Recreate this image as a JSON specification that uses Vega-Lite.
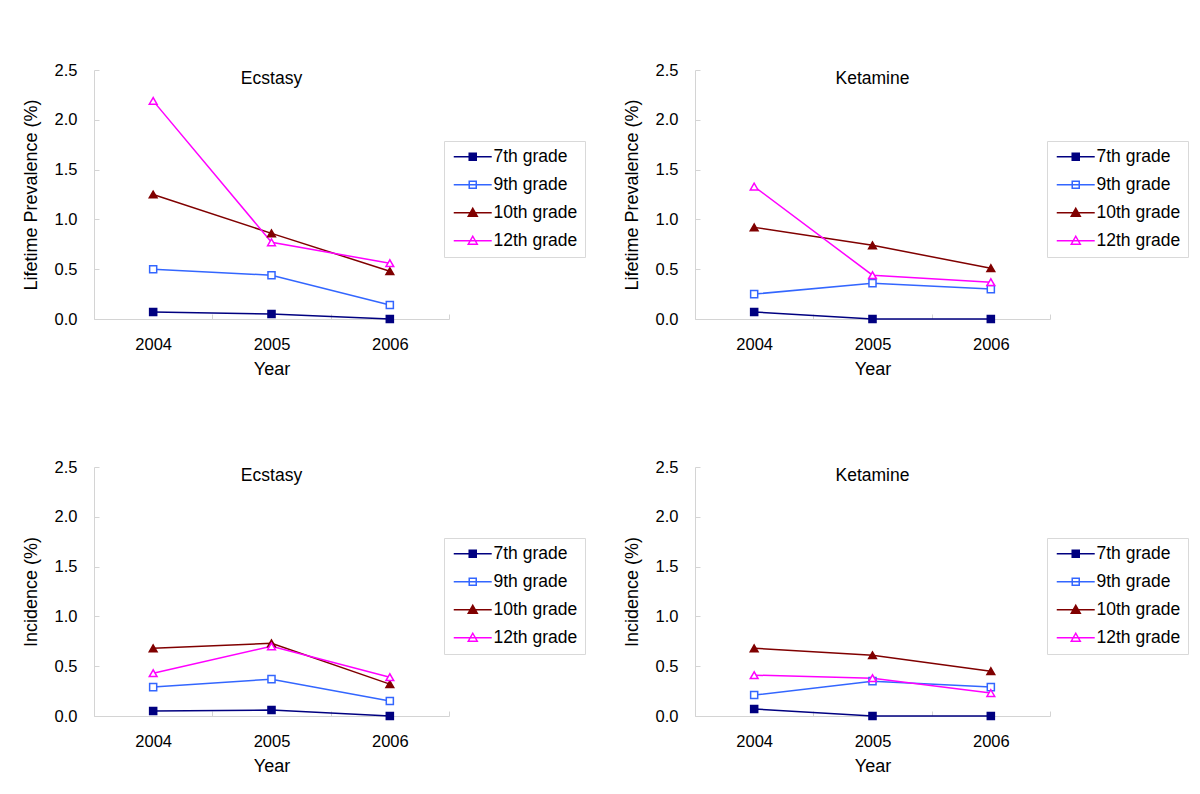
{
  "$schema": "https://vega.github.io/schema/vega-lite/v6.json",
  "background": "white",
  "padding": {"left": 22, "top": 62, "right": 5, "bottom": 5},
  "data": {"values": [
    {"panel": "EL", "grade": "7th grade", "year": "2004", "value": 0.07},
    {"panel": "EL", "grade": "7th grade", "year": "2005", "value": 0.05},
    {"panel": "EL", "grade": "7th grade", "year": "2006", "value": 0.0},
    {"panel": "EL", "grade": "9th grade", "year": "2004", "value": 0.50},
    {"panel": "EL", "grade": "9th grade", "year": "2005", "value": 0.44},
    {"panel": "EL", "grade": "9th grade", "year": "2006", "value": 0.14},
    {"panel": "EL", "grade": "10th grade", "year": "2004", "value": 1.25},
    {"panel": "EL", "grade": "10th grade", "year": "2005", "value": 0.86},
    {"panel": "EL", "grade": "10th grade", "year": "2006", "value": 0.48},
    {"panel": "EL", "grade": "12th grade", "year": "2004", "value": 2.19},
    {"panel": "EL", "grade": "12th grade", "year": "2005", "value": 0.77},
    {"panel": "EL", "grade": "12th grade", "year": "2006", "value": 0.56},
    {"panel": "KL", "grade": "7th grade", "year": "2004", "value": 0.07},
    {"panel": "KL", "grade": "7th grade", "year": "2005", "value": 0.0},
    {"panel": "KL", "grade": "7th grade", "year": "2006", "value": 0.0},
    {"panel": "KL", "grade": "9th grade", "year": "2004", "value": 0.25},
    {"panel": "KL", "grade": "9th grade", "year": "2005", "value": 0.36},
    {"panel": "KL", "grade": "9th grade", "year": "2006", "value": 0.30},
    {"panel": "KL", "grade": "10th grade", "year": "2004", "value": 0.92},
    {"panel": "KL", "grade": "10th grade", "year": "2005", "value": 0.74},
    {"panel": "KL", "grade": "10th grade", "year": "2006", "value": 0.51},
    {"panel": "KL", "grade": "12th grade", "year": "2004", "value": 1.33},
    {"panel": "KL", "grade": "12th grade", "year": "2005", "value": 0.44},
    {"panel": "KL", "grade": "12th grade", "year": "2006", "value": 0.37},
    {"panel": "EI", "grade": "7th grade", "year": "2004", "value": 0.05},
    {"panel": "EI", "grade": "7th grade", "year": "2005", "value": 0.06},
    {"panel": "EI", "grade": "7th grade", "year": "2006", "value": 0.0},
    {"panel": "EI", "grade": "9th grade", "year": "2004", "value": 0.29},
    {"panel": "EI", "grade": "9th grade", "year": "2005", "value": 0.37},
    {"panel": "EI", "grade": "9th grade", "year": "2006", "value": 0.15},
    {"panel": "EI", "grade": "10th grade", "year": "2004", "value": 0.68},
    {"panel": "EI", "grade": "10th grade", "year": "2005", "value": 0.73},
    {"panel": "EI", "grade": "10th grade", "year": "2006", "value": 0.32},
    {"panel": "EI", "grade": "12th grade", "year": "2004", "value": 0.43},
    {"panel": "EI", "grade": "12th grade", "year": "2005", "value": 0.70},
    {"panel": "EI", "grade": "12th grade", "year": "2006", "value": 0.39},
    {"panel": "KI", "grade": "7th grade", "year": "2004", "value": 0.07},
    {"panel": "KI", "grade": "7th grade", "year": "2005", "value": 0.0},
    {"panel": "KI", "grade": "7th grade", "year": "2006", "value": 0.0},
    {"panel": "KI", "grade": "9th grade", "year": "2004", "value": 0.21},
    {"panel": "KI", "grade": "9th grade", "year": "2005", "value": 0.35},
    {"panel": "KI", "grade": "9th grade", "year": "2006", "value": 0.29},
    {"panel": "KI", "grade": "10th grade", "year": "2004", "value": 0.68},
    {"panel": "KI", "grade": "10th grade", "year": "2005", "value": 0.61},
    {"panel": "KI", "grade": "10th grade", "year": "2006", "value": 0.45},
    {"panel": "KI", "grade": "12th grade", "year": "2004", "value": 0.41},
    {"panel": "KI", "grade": "12th grade", "year": "2005", "value": 0.38},
    {"panel": "KI", "grade": "12th grade", "year": "2006", "value": 0.23}
  ]},
  "columns": 2,
  "spacing": {"row": 148, "column": 246},
  "bounds": "flush",
  "resolve": {
    "scale": {"stroke": "independent", "color": "independent", "fill": "independent", "x": "independent", "y": "independent"},
    "legend": {"stroke": "independent"}
  },
  "concat": [
    {
      "title": "Ecstasy",
      "width": 355, "height": 249,
      "transform": [{"filter": "datum.panel === 'EL'"}],
      "encoding": {
        "x": {"field": "year", "type": "ordinal", "scale": {"type": "band", "paddingInner": 0, "paddingOuter": 0}, "axis": {"title": "Year"}},
        "y": {"field": "value", "type": "quantitative", "scale": {"domain": [0, 2.5], "nice": false, "zero": true}, "axis": {"title": "Lifetime Prevalence (%)"}}
      },
      "layer": [
        {"mark": {"type": "line", "strokeWidth": 1.5},
         "encoding": {"stroke": {"field": "grade", "type": "nominal", "scale": {"domain": ["7th grade", "9th grade", "10th grade", "12th grade"], "range": ["#000080", "#3366FF", "#800000", "#FF00FF"]},
          "legend": {"orient": "none", "legendX": 350, "legendY": 71,
            "encode": {"symbols": {"update": {
              "shape": {"signal": "datum.value === '7th grade' || datum.value === '9th grade' ? 'M-1,0L5.33,0M1.58,-0.58L2.75,-0.58L2.75,0.58L1.58,0.58Z' : 'M-1,0L5.33,0M2.17,-0.75L2.92,0.58L1.42,0.58Z'"},
              "fill": {"signal": "datum.value === '7th grade' ? '#000080' : datum.value === '10th grade' ? '#800000' : 'white'"},
              "stroke": {"signal": "datum.value === '7th grade' ? '#000080' : datum.value === '9th grade' ? '#3366FF' : datum.value === '10th grade' ? '#800000' : '#FF00FF'"},
              "strokeWidth": {"value": 1.5}, "size": {"value": 144}, "opacity": {"value": 1}}}}}}}},
        {"transform": [{"filter": "datum.grade === '7th grade' || datum.grade === '9th grade'"}],
         "mark": {"type": "point", "shape": "square", "filled": false, "strokeWidth": 1.5, "opacity": 1, "size": 50},
         "encoding": {
           "color": {"field": "grade", "type": "nominal", "scale": {"domain": ["7th grade", "9th grade", "10th grade", "12th grade"], "range": ["#000080", "#3366FF", "#800000", "#FF00FF"]}, "legend": null},
           "fill": {"field": "grade", "type": "nominal", "scale": {"domain": ["7th grade", "9th grade", "10th grade", "12th grade"], "range": ["#000080", "white", "#800000", "white"]}, "legend": null}
         }},
        {"transform": [{"filter": "datum.grade === '10th grade' || datum.grade === '12th grade'"}],
         "mark": {"type": "point", "shape": "triangle-up", "filled": false, "strokeWidth": 1.5, "opacity": 1, "size": 60},
         "encoding": {
           "color": {"field": "grade", "type": "nominal", "scale": {"domain": ["7th grade", "9th grade", "10th grade", "12th grade"], "range": ["#000080", "#3366FF", "#800000", "#FF00FF"]}, "legend": null},
           "fill": {"field": "grade", "type": "nominal", "scale": {"domain": ["7th grade", "9th grade", "10th grade", "12th grade"], "range": ["#000080", "white", "#800000", "white"]}, "legend": null}
         }}
      ]
    },
    {
      "title": "Ketamine",
      "width": 355, "height": 249,
      "transform": [{"filter": "datum.panel === 'KL'"}],
      "encoding": {
        "x": {"field": "year", "type": "ordinal", "scale": {"type": "band", "paddingInner": 0, "paddingOuter": 0}, "axis": {"title": "Year"}},
        "y": {"field": "value", "type": "quantitative", "scale": {"domain": [0, 2.5], "nice": false, "zero": true}, "axis": {"title": "Lifetime Prevalence (%)"}}
      },
      "layer": [
        {"mark": {"type": "line", "strokeWidth": 1.5},
         "encoding": {"stroke": {"field": "grade", "type": "nominal", "scale": {"domain": ["7th grade", "9th grade", "10th grade", "12th grade"], "range": ["#000080", "#3366FF", "#800000", "#FF00FF"]},
          "legend": {"orient": "none", "legendX": 352, "legendY": 71,
            "encode": {"symbols": {"update": {
              "shape": {"signal": "datum.value === '7th grade' || datum.value === '9th grade' ? 'M-1,0L5.33,0M1.58,-0.58L2.75,-0.58L2.75,0.58L1.58,0.58Z' : 'M-1,0L5.33,0M2.17,-0.75L2.92,0.58L1.42,0.58Z'"},
              "fill": {"signal": "datum.value === '7th grade' ? '#000080' : datum.value === '10th grade' ? '#800000' : 'white'"},
              "stroke": {"signal": "datum.value === '7th grade' ? '#000080' : datum.value === '9th grade' ? '#3366FF' : datum.value === '10th grade' ? '#800000' : '#FF00FF'"},
              "strokeWidth": {"value": 1.5}, "size": {"value": 144}, "opacity": {"value": 1}}}}}}}},
        {"transform": [{"filter": "datum.grade === '7th grade' || datum.grade === '9th grade'"}],
         "mark": {"type": "point", "shape": "square", "filled": false, "strokeWidth": 1.5, "opacity": 1, "size": 50},
         "encoding": {
           "color": {"field": "grade", "type": "nominal", "scale": {"domain": ["7th grade", "9th grade", "10th grade", "12th grade"], "range": ["#000080", "#3366FF", "#800000", "#FF00FF"]}, "legend": null},
           "fill": {"field": "grade", "type": "nominal", "scale": {"domain": ["7th grade", "9th grade", "10th grade", "12th grade"], "range": ["#000080", "white", "#800000", "white"]}, "legend": null}
         }},
        {"transform": [{"filter": "datum.grade === '10th grade' || datum.grade === '12th grade'"}],
         "mark": {"type": "point", "shape": "triangle-up", "filled": false, "strokeWidth": 1.5, "opacity": 1, "size": 60},
         "encoding": {
           "color": {"field": "grade", "type": "nominal", "scale": {"domain": ["7th grade", "9th grade", "10th grade", "12th grade"], "range": ["#000080", "#3366FF", "#800000", "#FF00FF"]}, "legend": null},
           "fill": {"field": "grade", "type": "nominal", "scale": {"domain": ["7th grade", "9th grade", "10th grade", "12th grade"], "range": ["#000080", "white", "#800000", "white"]}, "legend": null}
         }}
      ]
    },
    {
      "title": "Ecstasy",
      "width": 355, "height": 249,
      "transform": [{"filter": "datum.panel === 'EI'"}],
      "encoding": {
        "x": {"field": "year", "type": "ordinal", "scale": {"type": "band", "paddingInner": 0, "paddingOuter": 0}, "axis": {"title": "Year"}},
        "y": {"field": "value", "type": "quantitative", "scale": {"domain": [0, 2.5], "nice": false, "zero": true}, "axis": {"title": "Incidence (%)"}}
      },
      "layer": [
        {"mark": {"type": "line", "strokeWidth": 1.5},
         "encoding": {"stroke": {"field": "grade", "type": "nominal", "scale": {"domain": ["7th grade", "9th grade", "10th grade", "12th grade"], "range": ["#000080", "#3366FF", "#800000", "#FF00FF"]},
          "legend": {"orient": "none", "legendX": 350, "legendY": 71,
            "encode": {"symbols": {"update": {
              "shape": {"signal": "datum.value === '7th grade' || datum.value === '9th grade' ? 'M-1,0L5.33,0M1.58,-0.58L2.75,-0.58L2.75,0.58L1.58,0.58Z' : 'M-1,0L5.33,0M2.17,-0.75L2.92,0.58L1.42,0.58Z'"},
              "fill": {"signal": "datum.value === '7th grade' ? '#000080' : datum.value === '10th grade' ? '#800000' : 'white'"},
              "stroke": {"signal": "datum.value === '7th grade' ? '#000080' : datum.value === '9th grade' ? '#3366FF' : datum.value === '10th grade' ? '#800000' : '#FF00FF'"},
              "strokeWidth": {"value": 1.5}, "size": {"value": 144}, "opacity": {"value": 1}}}}}}}},
        {"transform": [{"filter": "datum.grade === '7th grade' || datum.grade === '9th grade'"}],
         "mark": {"type": "point", "shape": "square", "filled": false, "strokeWidth": 1.5, "opacity": 1, "size": 50},
         "encoding": {
           "color": {"field": "grade", "type": "nominal", "scale": {"domain": ["7th grade", "9th grade", "10th grade", "12th grade"], "range": ["#000080", "#3366FF", "#800000", "#FF00FF"]}, "legend": null},
           "fill": {"field": "grade", "type": "nominal", "scale": {"domain": ["7th grade", "9th grade", "10th grade", "12th grade"], "range": ["#000080", "white", "#800000", "white"]}, "legend": null}
         }},
        {"transform": [{"filter": "datum.grade === '10th grade' || datum.grade === '12th grade'"}],
         "mark": {"type": "point", "shape": "triangle-up", "filled": false, "strokeWidth": 1.5, "opacity": 1, "size": 60},
         "encoding": {
           "color": {"field": "grade", "type": "nominal", "scale": {"domain": ["7th grade", "9th grade", "10th grade", "12th grade"], "range": ["#000080", "#3366FF", "#800000", "#FF00FF"]}, "legend": null},
           "fill": {"field": "grade", "type": "nominal", "scale": {"domain": ["7th grade", "9th grade", "10th grade", "12th grade"], "range": ["#000080", "white", "#800000", "white"]}, "legend": null}
         }}
      ]
    },
    {
      "title": "Ketamine",
      "width": 355, "height": 249,
      "transform": [{"filter": "datum.panel === 'KI'"}],
      "encoding": {
        "x": {"field": "year", "type": "ordinal", "scale": {"type": "band", "paddingInner": 0, "paddingOuter": 0}, "axis": {"title": "Year"}},
        "y": {"field": "value", "type": "quantitative", "scale": {"domain": [0, 2.5], "nice": false, "zero": true}, "axis": {"title": "Incidence (%)"}}
      },
      "layer": [
        {"mark": {"type": "line", "strokeWidth": 1.5},
         "encoding": {"stroke": {"field": "grade", "type": "nominal", "scale": {"domain": ["7th grade", "9th grade", "10th grade", "12th grade"], "range": ["#000080", "#3366FF", "#800000", "#FF00FF"]},
          "legend": {"orient": "none", "legendX": 352, "legendY": 71,
            "encode": {"symbols": {"update": {
              "shape": {"signal": "datum.value === '7th grade' || datum.value === '9th grade' ? 'M-1,0L5.33,0M1.58,-0.58L2.75,-0.58L2.75,0.58L1.58,0.58Z' : 'M-1,0L5.33,0M2.17,-0.75L2.92,0.58L1.42,0.58Z'"},
              "fill": {"signal": "datum.value === '7th grade' ? '#000080' : datum.value === '10th grade' ? '#800000' : 'white'"},
              "stroke": {"signal": "datum.value === '7th grade' ? '#000080' : datum.value === '9th grade' ? '#3366FF' : datum.value === '10th grade' ? '#800000' : '#FF00FF'"},
              "strokeWidth": {"value": 1.5}, "size": {"value": 144}, "opacity": {"value": 1}}}}}}}},
        {"transform": [{"filter": "datum.grade === '7th grade' || datum.grade === '9th grade'"}],
         "mark": {"type": "point", "shape": "square", "filled": false, "strokeWidth": 1.5, "opacity": 1, "size": 50},
         "encoding": {
           "color": {"field": "grade", "type": "nominal", "scale": {"domain": ["7th grade", "9th grade", "10th grade", "12th grade"], "range": ["#000080", "#3366FF", "#800000", "#FF00FF"]}, "legend": null},
           "fill": {"field": "grade", "type": "nominal", "scale": {"domain": ["7th grade", "9th grade", "10th grade", "12th grade"], "range": ["#000080", "white", "#800000", "white"]}, "legend": null}
         }},
        {"transform": [{"filter": "datum.grade === '10th grade' || datum.grade === '12th grade'"}],
         "mark": {"type": "point", "shape": "triangle-up", "filled": false, "strokeWidth": 1.5, "opacity": 1, "size": 60},
         "encoding": {
           "color": {"field": "grade", "type": "nominal", "scale": {"domain": ["7th grade", "9th grade", "10th grade", "12th grade"], "range": ["#000080", "#3366FF", "#800000", "#FF00FF"]}, "legend": null},
           "fill": {"field": "grade", "type": "nominal", "scale": {"domain": ["7th grade", "9th grade", "10th grade", "12th grade"], "range": ["#000080", "white", "#800000", "white"]}, "legend": null}
         }}
      ]
    }
  ],
  "config": {
    "font": "Liberation Sans",
    "view": {"stroke": null},
    "axis": {"labelFont": "Liberation Sans", "labelFontSize": 16.5, "labelColor": "black", "titleFont": "Liberation Sans", "titleFontWeight": "normal", "titleColor": "black", "domainColor": "#d4d4d4", "tickColor": "#d4d4d4", "grid": false, "tickSize": -5},
    "axisX": {"labelAngle": 0, "tickBand": "extent", "labelPadding": 22, "titlePadding": 8, "titleFontSize": 18},
    "axisY": {"values": [0, 0.25, 0.5, 0.75, 1, 1.25, 1.5, 1.75, 2, 2.25, 2.5], "labelExpr": "datum.value % 0.5 === 0 ? format(datum.value, '.1f') : ''", "labelPadding": 22, "titlePadding": 14, "titleFontSize": 18},
    "legend": {"title": null, "strokeColor": "#d9d9d9", "fillColor": "white", "padding": 7, "labelFont": "Liberation Sans", "labelFontSize": 17.5, "labelColor": "black", "symbolSize": 144, "labelOffset": 25, "rowPadding": 9, "symbolStrokeWidth": 1.5},
    "title": {"font": "Liberation Sans", "fontSize": 17.5, "fontWeight": "normal", "color": "black", "frame": "group", "offset": -25}
  }
}
